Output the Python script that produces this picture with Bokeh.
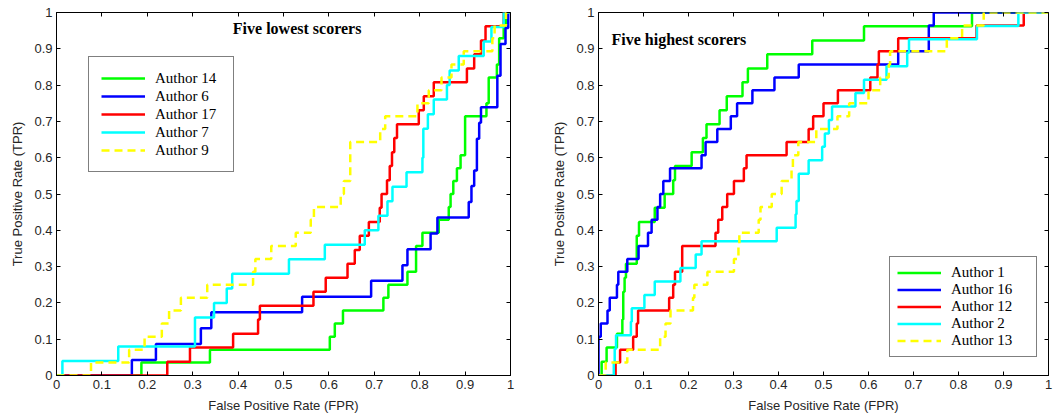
from bokeh.plotting import figure
from bokeh.models import Range1d, FixedTicker, LinearAxis, CustomJSTickFormatter, Label, Legend, LegendItem
from bokeh.layouts import row
from bokeh.embed import file_html
from bokeh.resources import INLINE

# ---------------- data ----------------
tick_values = [0, 0.1, 0.2, 0.3, 0.4, 0.5, 0.6, 0.7, 0.8, 0.9, 1.0]
tick_labels = ["0", "0.1", "0.2", "0.3", "0.4", "0.5", "0.6", "0.7", "0.8", "0.9", "1"]

# Left panel: five lowest scorers (FPR where TPR jumps, new TPR)
a14_fpr = [0, 0.187, 0.338, 0.602, 0.613, 0.631, 0.72, 0.731, 0.773, 0.792, 0.806, 0.842, 0.864, 0.868, 0.874, 0.882, 0.89, 0.9, 0.947, 0.952, 0.97, 0.975, 0.985, 0.99, 1.0]
a14_tpr = [0, 0.036, 0.071, 0.107, 0.143, 0.179, 0.214, 0.25, 0.286, 0.357, 0.393, 0.429, 0.464, 0.5, 0.536, 0.571, 0.607, 0.714, 0.75, 0.821, 0.857, 0.929, 0.964, 1.0, 1.0]

a6_fpr = [0, 0.166, 0.219, 0.318, 0.341, 0.541, 0.693, 0.762, 0.773, 0.824, 0.839, 0.908, 0.914, 0.92, 0.926, 0.931, 0.935, 0.971, 0.978, 0.989, 0.995, 1.0]
a6_tpr = [0, 0.043, 0.087, 0.130, 0.174, 0.217, 0.261, 0.304, 0.348, 0.391, 0.435, 0.478, 0.522, 0.565, 0.652, 0.696, 0.739, 0.826, 0.913, 0.957, 1.0, 1.0]

a17_fpr = [0, 0.244, 0.294, 0.389, 0.444, 0.448, 0.566, 0.593, 0.641, 0.657, 0.668, 0.688, 0.712, 0.716, 0.728, 0.734, 0.739, 0.744, 0.75, 0.798, 0.809, 0.831, 0.904, 0.92, 0.935, 0.945, 0.985, 1.0]
a17_tpr = [0, 0.038, 0.077, 0.115, 0.154, 0.192, 0.231, 0.269, 0.308, 0.346, 0.385, 0.423, 0.462, 0.5, 0.538, 0.577, 0.615, 0.654, 0.692, 0.731, 0.769, 0.808, 0.846, 0.885, 0.923, 0.962, 1.0, 1.0]

a7_fpr = [0, 0.013, 0.136, 0.305, 0.347, 0.375, 0.387, 0.512, 0.591, 0.679, 0.709, 0.729, 0.74, 0.771, 0.806, 0.808, 0.818, 0.831, 0.86, 0.866, 0.886, 0.941, 0.958, 0.985, 1.0]
a7_tpr = [0, 0.04, 0.08, 0.16, 0.2, 0.24, 0.28, 0.32, 0.36, 0.4, 0.44, 0.48, 0.52, 0.56, 0.6, 0.68, 0.72, 0.76, 0.8, 0.84, 0.88, 0.92, 0.96, 1.0, 1.0]

a9_fpr = [0, 0.076, 0.16, 0.194, 0.232, 0.248, 0.274, 0.332, 0.433, 0.438, 0.473, 0.527, 0.56, 0.567, 0.626, 0.633, 0.647, 0.713, 0.724, 0.795, 0.82, 0.848, 0.87, 0.897, 0.96, 0.965, 0.99, 1.0]
a9_tpr = [0, 0.036, 0.071, 0.107, 0.143, 0.179, 0.214, 0.25, 0.286, 0.321, 0.357, 0.393, 0.429, 0.464, 0.5, 0.536, 0.643, 0.679, 0.714, 0.75, 0.786, 0.821, 0.857, 0.893, 0.929, 0.964, 1.0, 1.0]

# Right panel: five highest scorers
a1_fpr = [0, 0.007, 0.018, 0.041, 0.053, 0.055, 0.058, 0.061, 0.085, 0.09, 0.125, 0.147, 0.166, 0.17, 0.207, 0.232, 0.24, 0.269, 0.285, 0.32, 0.332, 0.375, 0.475, 0.59, 0.83, 1.0]
a1_tpr = [0, 0.038, 0.077, 0.115, 0.154, 0.231, 0.269, 0.308, 0.385, 0.423, 0.462, 0.5, 0.538, 0.577, 0.615, 0.654, 0.692, 0.731, 0.769, 0.808, 0.846, 0.885, 0.923, 0.962, 1.0, 1.0]

a16_fpr = [0, 0, 0.005, 0.02, 0.025, 0.041, 0.044, 0.064, 0.089, 0.11, 0.118, 0.131, 0.137, 0.144, 0.159, 0.229, 0.238, 0.264, 0.294, 0.308, 0.342, 0.391, 0.445, 0.666, 0.734, 0.745, 1.0]
a16_tpr = [0, 0.107, 0.143, 0.179, 0.214, 0.25, 0.286, 0.321, 0.357, 0.393, 0.429, 0.464, 0.5, 0.536, 0.571, 0.607, 0.643, 0.679, 0.714, 0.75, 0.786, 0.821, 0.857, 0.893, 0.964, 1.0, 1.0]

a12_fpr = [0, 0.038, 0.048, 0.077, 0.085, 0.088, 0.157, 0.166, 0.17, 0.186, 0.26, 0.266, 0.275, 0.286, 0.301, 0.323, 0.329, 0.418, 0.467, 0.477, 0.5, 0.532, 0.604, 0.62, 0.623, 0.666, 0.84, 0.945, 1.0]
a12_tpr = [0, 0.036, 0.071, 0.107, 0.143, 0.179, 0.214, 0.25, 0.286, 0.357, 0.393, 0.429, 0.464, 0.5, 0.536, 0.571, 0.607, 0.643, 0.679, 0.714, 0.75, 0.786, 0.821, 0.857, 0.893, 0.929, 0.964, 1.0, 1.0]

a2_fpr = [0, 0.034, 0.036, 0.039, 0.072, 0.074, 0.102, 0.125, 0.182, 0.216, 0.229, 0.396, 0.438, 0.44, 0.445, 0.467, 0.497, 0.503, 0.512, 0.519, 0.571, 0.59, 0.64, 0.686, 0.69, 0.841, 0.933, 1.0]
a2_tpr = [0, 0.037, 0.074, 0.111, 0.148, 0.185, 0.222, 0.259, 0.296, 0.333, 0.370, 0.407, 0.444, 0.481, 0.556, 0.593, 0.630, 0.667, 0.704, 0.741, 0.778, 0.815, 0.852, 0.889, 0.926, 0.963, 1.0, 1.0]

a13_fpr = [0, 0.016, 0.064, 0.137, 0.149, 0.16, 0.21, 0.213, 0.242, 0.301, 0.311, 0.313, 0.356, 0.36, 0.385, 0.407, 0.429, 0.432, 0.444, 0.484, 0.531, 0.557, 0.6, 0.626, 0.645, 0.648, 0.774, 0.808, 0.856, 1.0]
a13_tpr = [0, 0.036, 0.071, 0.107, 0.143, 0.179, 0.214, 0.25, 0.286, 0.321, 0.357, 0.393, 0.429, 0.464, 0.5, 0.536, 0.571, 0.607, 0.643, 0.679, 0.714, 0.75, 0.786, 0.821, 0.857, 0.893, 0.929, 0.964, 1.0, 1.0]

left_names = ["Author 14", "Author 6", "Author 17", "Author 7", "Author 9"]
right_names = ["Author 1", "Author 16", "Author 12", "Author 2", "Author 13"]
colors = ["#00ff00", "#0000ff", "#ff0000", "#00ffff", "#ffff00"]
dashes = ["solid", "solid", "solid", "solid", "8 5"]

left_series = [(a14_fpr, a14_tpr), (a6_fpr, a6_tpr), (a17_fpr, a17_tpr), (a7_fpr, a7_tpr), (a9_fpr, a9_tpr)]
right_series = [(a1_fpr, a1_tpr), (a16_fpr, a16_tpr), (a12_fpr, a12_tpr), (a2_fpr, a2_tpr), (a13_fpr, a13_tpr)]

TEXT = "#262626"


def fmt():
    return CustomJSTickFormatter(args=dict(tv=tick_values, tl=tick_labels), code="""
        let best = 0;
        for (let i = 0; i < tv.length; i++) {
            if (Math.abs(tv[i] - tick) < Math.abs(tv[best] - tick)) { best = i; }
        }
        return tl[best];
    """)


def make_panel(series, names, title, title_x, title_y, title_align, legend_kw, width, mbl, mbr):
    p = figure(width=width, height=419, x_range=Range1d(0, 1), y_range=Range1d(0, 1),
               output_backend="svg", toolbar_location=None,
               min_border_left=mbl, min_border_right=mbr, min_border_top=12, min_border_bottom=44)
    p.background_fill_color = "white"
    p.border_fill_color = "white"
    p.outline_line_color = "black"
    p.outline_line_width = 1
    p.grid.visible = False

    for ax in (p.xaxis[0], p.yaxis[0]):
        ax.ticker = FixedTicker(ticks=tick_values)
        ax.formatter = fmt()
        ax.major_tick_in = 4
        ax.major_tick_out = 0
        ax.minor_tick_line_color = None
        ax.axis_line_color = "black"
        ax.major_tick_line_color = "black"
        ax.major_label_text_font = "Liberation Sans"
        ax.major_label_text_font_size = "13px"
        ax.major_label_text_color = TEXT
        ax.axis_label_text_font = "Liberation Sans"
        ax.axis_label_text_font_size = "13px"
        ax.axis_label_text_font_style = "normal"
        ax.axis_label_text_color = TEXT
        ax.major_label_standoff = 4
        ax.axis_label_standoff = 6
    p.xaxis.axis_label = "False Positive Rate (FPR)"
    p.yaxis.axis_label = "True Positive Rate (TPR)"

    for loc in ("right", "above"):
        ax = LinearAxis(ticker=FixedTicker(ticks=tick_values), major_label_text_font_size="1px",
                        major_label_text_color=None, major_label_text_alpha=0,
                        major_tick_in=4, major_tick_out=0, minor_tick_line_color=None,
                        axis_line_color=None, major_label_standoff=0, major_tick_line_color="black")
        p.add_layout(ax, loc)

    items = []
    for (xs, ys), name, c, d in zip(series, names, colors, dashes):
        r = p.step(xs, ys, mode="after", line_color=c, line_width=2.5, line_dash=d)
        items.append(LegendItem(label=name, renderers=[r]))

    legend = Legend(items=items, border_line_color="black", border_line_width=1,
                    background_fill_color="white", background_fill_alpha=1,
                    label_text_font="Liberation Serif", label_text_font_size="15px",
                    label_text_color="black", glyph_width=44,
                    label_standoff=10, spacing=0, margin=0, **legend_kw)
    p.add_layout(legend, "center")

    p.add_layout(Label(x=title_x, y=title_y, text=title,
                       text_align=title_align, text_baseline="middle",
                       text_font="Liberation Serif", text_font_style="bold",
                       text_font_size="16px", text_color="black"))
    return p


left_legend = dict(location=(32, 203), padding=12, label_height=18, glyph_height=18, label_width=66)
right_legend = dict(location=(291, 18), padding=7, label_height=17, glyph_height=17, label_width=78)

p1 = make_panel(left_series, left_names, "Five lowest scorers", 0.53, 0.956, "center", left_legend, 530, 56, 20)
p2 = make_panel(right_series, right_names, "Five highest scorers", 0.029, 0.925, "left", right_legend, 534, 68, 16)

layout = row(p1, p2, spacing=0)
open("out.html", "w").write(file_html(layout, INLINE))
